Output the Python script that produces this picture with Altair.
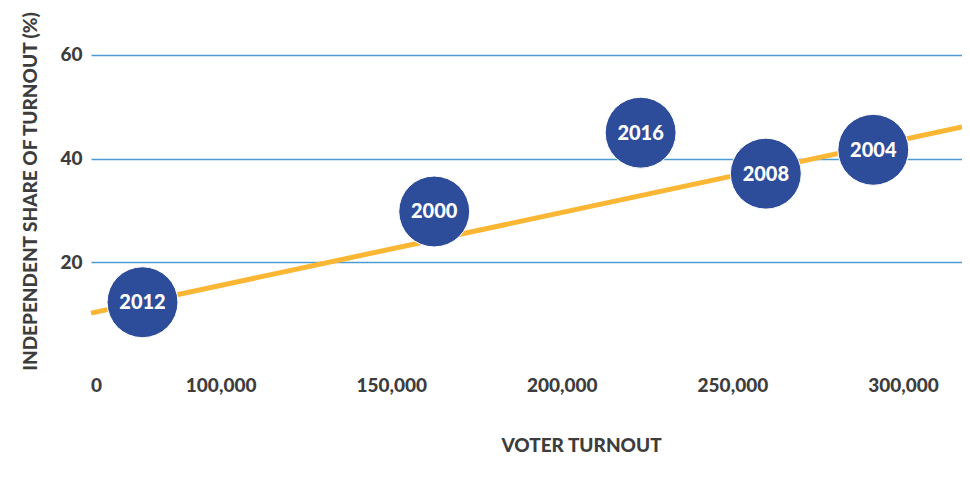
import altair as alt
import pandas as pd

# Data
years = ["2012", "2000", "2016", "2008", "2004"]
turnout = [77100, 162600, 223100, 259800, 291300]
share = [12.3, 29.8, 45.0, 37.1, 41.7]

# Trend line end points
trend_x = [62000, 317300]
trend_y = [10.2, 46.1]

# Axis ticks
x_ticks = [63500, 100000, 150000, 200000, 250000, 300000]
y_ticks = [20, 40, 60]

pts = pd.DataFrame({"year": years, "turnout": turnout, "share": share})
trend = pd.DataFrame({"turnout": trend_x, "share": trend_y})

FONT = "Lato"
TXT = "#3d3d3d"
W = 900

x_scale = alt.Scale(domain=[62000, 317300], nice=False, zero=False)
y_scale = alt.Scale(domain=[0, 65], nice=False)

x_axis = alt.Axis(
    values=x_ticks,
    labelExpr="datum.value < 70000 ? '0' : format(datum.value, ',')",
    title="VOTER TURNOUT",
    grid=False, domain=False, ticks=False,
    labelFont=FONT, labelFontSize=19, labelFontWeight=W, labelColor=TXT,
    labelPadding=10, labelFlush=False,
    titleFont=FONT, titleFontSize=19, titleFontWeight=W, titleColor=TXT,
    titleX=490, titleY=79, titleAlign="center", titleBaseline="middle",
)
y_axis = alt.Axis(
    values=y_ticks,
    title="INDEPENDENT SHARE OF TURNOUT (%)",
    grid=True, gridColor="#4b9cd3", gridWidth=1.5,
    domain=False, ticks=False,
    labelFont=FONT, labelFontSize=19, labelFontWeight=W, labelColor=TXT,
    labelPadding=9,
    titleFont=FONT, titleFontSize=19, titleFontWeight=W, titleColor=TXT,
    titleX=-61, titleY=162, titleAlign="center", titleBaseline="middle", titleAngle=-90,
)

line = alt.Chart(trend).mark_line(color="#fbb634", strokeWidth=5).encode(
    x=alt.X("turnout:Q", scale=x_scale, axis=x_axis),
    y=alt.Y("share:Q", scale=y_scale, axis=y_axis),
)

circles = alt.Chart(pts).mark_circle(
    size=5027, color="#2d4c9a", opacity=1, stroke="white", strokeWidth=1
).encode(
    x=alt.X("turnout:Q", scale=x_scale),
    y=alt.Y("share:Q", scale=y_scale),
)

labels = alt.Chart(pts).mark_text(
    font=FONT, fontSize=20, fontWeight=W, color="white",
    align="center", baseline="middle", dy=1
).encode(
    x=alt.X("turnout:Q", scale=x_scale),
    y=alt.Y("share:Q", scale=y_scale),
    text="year:N",
)

chart = alt.layer(line, circles, labels).properties(
    width=871, height=337,
    background="white",
    autosize=alt.AutoSizeParams(type="none"),
    padding={"left": 83, "top": 21, "right": 0, "bottom": 100},
).configure_view(stroke=None, strokeWidth=0)

chart.save("out.html", embed_options={"renderer": "svg", "actions": False})
